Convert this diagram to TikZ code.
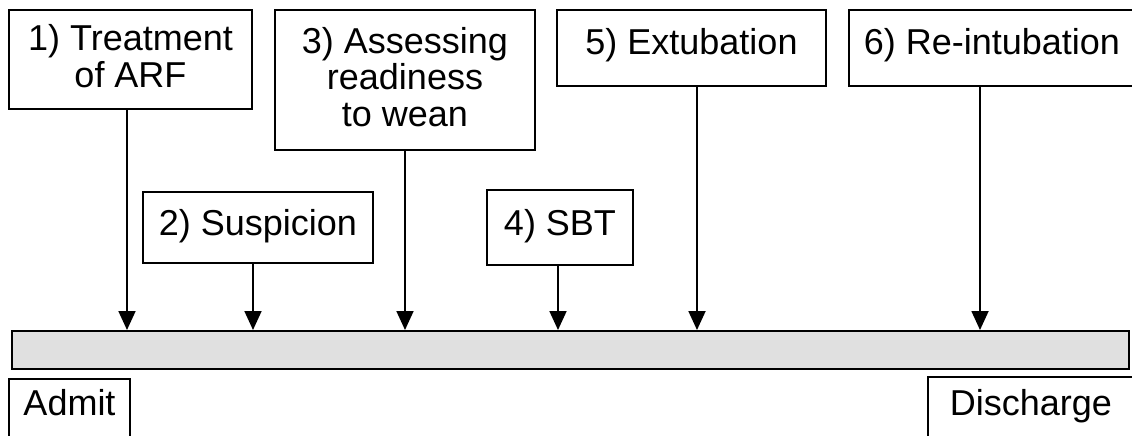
\documentclass[tikz,border=0pt]{standalone}
\usepackage{fontspec}
\setmainfont{Liberation Sans}
\usetikzlibrary{arrows.meta}
\definecolor{barfill}{RGB}{224,224,224}
\begin{document}
\begin{tikzpicture}[x=1pt,y=-1pt,
  box/.style={draw, line width=2pt, inner sep=0pt, align=center,
    font=\fontsize{36}{36.5}\selectfont, text height=26pt},
  pointer/.style={line width=1.8pt, -{Triangle[width=17pt,length=19pt]}}]
\useasboundingbox (0,0) rectangle (1132,436);
% event boxes
\node[box, minimum width=243pt, minimum height=99pt, text height=62.5pt, text depth=6.5pt] (b1) at (130.5,59.5) {1) Treatment\\of ARF};
\node[box, minimum width=230pt, minimum height=71pt, text depth=11pt] (b2) at (258,227.5) {2) Suspicion};
\node[box, minimum width=260pt, minimum height=140pt, text height=99pt, text depth=7pt] (b3) at (405,80) {3) Assessing\\readiness\\to wean};
\node[box, minimum width=146pt, minimum height=75pt, text depth=11pt] (b4) at (560,227.5) {4) SBT};
\node[box, minimum width=269pt, minimum height=76pt, text depth=12pt] (b5) at (691.5,48) {5) Extubation};
\node[box, minimum width=286pt, minimum height=76pt, text depth=12pt] (b6) at (992,48) {6) Re-intubation};
% timeline bar
\node[draw, line width=2pt, fill=barfill, inner sep=0pt, minimum width=1117pt, minimum height=38pt] (bar) at (570.5,350) {};
% ends
\node[box, minimum width=121pt, minimum height=80pt, text depth=34pt] (admit) at (69.5,419) {Admit};
\node[box, minimum width=206pt, minimum height=80pt, text depth=30pt] (discharge) at (1031,417) {Discharge};
% arrows
\draw[pointer] (b1.south -| 127,0) -- (bar.north -| 127,0);
\draw[pointer] (b2.south -| 253,0) -- (bar.north -| 253,0);
\draw[pointer] (b3.south -| 405,0) -- (bar.north -| 405,0);
\draw[pointer] (b4.south -| 558,0) -- (bar.north -| 558,0);
\draw[pointer] (b5.south -| 697,0) -- (bar.north -| 697,0);
\draw[pointer] (b6.south -| 980,0) -- (bar.north -| 980,0);
\end{tikzpicture}
\end{document}
